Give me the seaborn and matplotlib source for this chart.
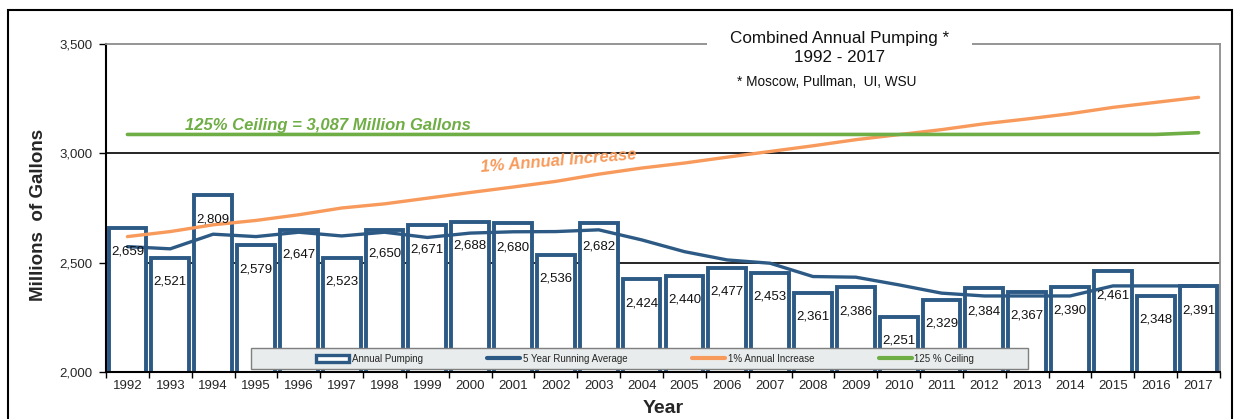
import numpy as np
import pandas as pd
import matplotlib
matplotlib.use("Agg")
import matplotlib.pyplot as plt
from matplotlib.patches import Patch, Rectangle
from matplotlib.lines import Line2D
from matplotlib.ticker import FuncFormatter, FixedLocator
import seaborn as sns

years = [str(y) for y in range(1992, 2018)]
annual_pumping = [2659, 2521, 2809, 2579, 2647, 2523, 2650, 2671, 2688, 2680, 2536, 2682,
                  2424, 2440, 2477, 2453, 2361, 2386, 2251, 2329, 2384, 2367, 2390, 2461,
                  2348, 2391]
running_avg = [2573, 2563, 2630, 2619, 2639, 2622, 2639, 2615, 2635, 2641, 2642, 2650,
               2604, 2550, 2512, 2497, 2436, 2433, 2398, 2360, 2347, 2347, 2347, 2393,
               2393, 2393]
annual_increase = [2619, 2642, 2673, 2693, 2719, 2750, 2769, 2795, 2821, 2846, 2872, 2905,
                   2933, 2956, 2983, 3009, 3035, 3063, 3086, 3109, 3136, 3158, 3182, 3211,
                   3234, 3257]
ceiling = [3087] * 25 + [3095]

legend_labels = ["Annual Pumping", "5 Year Running Average", "1% Annual Increase", "125 % Ceiling"]

BLUE = "#2C5A85"
ORANGE = "#F79A5B"
GREEN = "#6FAD45"

sns.set_theme(style="white")
plt.rcParams["font.family"] = ["Liberation Sans", "DejaVu Sans"]

df = pd.DataFrame({"year": years, "pumping": annual_pumping, "avg": running_avg,
                   "inc": annual_increase, "ceil": ceiling})
df["idx"] = np.arange(len(df))

fig = plt.figure(figsize=(12.41, 4.19), dpi=100)
ax = fig.add_axes([106 / 1241, 1 - 371.7 / 419, (1220 - 106) / 1241, (371.7 - 44.3) / 419])

# gridlines
for yv in (2500, 3000):
    ax.axhline(yv, color="black", lw=1.2, zorder=0.5)

sns.barplot(data=df, x="year", y="pumping", ax=ax, color="white", width=0.88,
            edgecolor=BLUE, linewidth=2.8, zorder=2, saturation=1)
for p in ax.patches:
    p.set_facecolor("white")
    p.set_edgecolor(BLUE)
    p.set_zorder(2)

sns.lineplot(data=df, x="idx", y="inc", ax=ax, color=ORANGE, lw=2.4, zorder=3)
sns.lineplot(data=df, x="idx", y="ceil", ax=ax, color=GREEN, lw=2.6, zorder=3)
sns.lineplot(data=df, x="idx", y="avg", ax=ax, color=BLUE, lw=2.4, zorder=4)

for i, v in enumerate(annual_pumping):
    ax.text(i, v - 110, f"{v:,}", ha="center", va="center", fontsize=9.5, color="#111111", zorder=5)

ax.set_xlim(-0.5, len(years) - 0.5)
ax.set_ylim(2000, 3500)
ax.set_yticks([2000, 2500, 3000, 3500])
ax.yaxis.set_major_formatter(FuncFormatter(lambda v, p: f"{int(v):,}"))
ax.tick_params(axis="y", which="major", direction="out", length=5, width=1, color="black",
               labelsize=9.5, pad=5, left=True)
ax.tick_params(axis="x", which="major", length=0, labelsize=9.5, pad=6)
ax.xaxis.set_minor_locator(FixedLocator(np.arange(-0.5, len(years), 1.0)))
ax.tick_params(axis="x", which="minor", direction="out", length=4, width=1, color="black", bottom=True)

ax.set_xlabel("Year", fontsize=14, fontweight="bold", labelpad=6)
ax.set_ylabel("Millions  of Gallons", fontsize=13.5, fontweight="bold", labelpad=9)
ax.yaxis.set_label_coords(-0.053, 0.48)

for s in ("left", "bottom"):
    ax.spines[s].set_color("black")
    ax.spines[s].set_linewidth(1.5)
for s in ("right", "top"):
    ax.spines[s].set_color("#8C8C8C")
    ax.spines[s].set_linewidth(1.3)
    ax.spines[s].set_visible(True)

# annotations
ax.text(1.35, 3128, "125% Ceiling = 3,087 Million Gallons", fontsize=12, fontweight="bold",
        fontstyle="italic", color=GREEN, ha="left", va="center", zorder=5)
ax.text(8.25, 2935, "1% Annual Increase", fontsize=12, fontweight="bold",
        fontstyle="italic", color=ORANGE, ha="left", va="center", rotation=4.7,
        rotation_mode="anchor", zorder=5)

# title block over the top frame line
fig.patches.append(Rectangle((707 / 1241, 1 - 52 / 419), (972 - 707) / 1241, 14 / 419,
                             transform=fig.transFigure, facecolor="white", edgecolor="none",
                             zorder=10))
fig.text(840 / 1241, 1 - 38 / 419, "Combined Annual Pumping *", ha="center", va="center",
         fontsize=12.3, color="#111111", zorder=11)
fig.text(840 / 1241, 1 - 57 / 419, "1992 - 2017", ha="center", va="center",
         fontsize=12.3, color="#111111", zorder=11)
fig.text(827 / 1241, 1 - 82 / 419, "* Moscow, Pullman,  UI, WSU", ha="center", va="center",
         fontsize=9.8, color="#111111", zorder=11)

# outer frame
fig.patches.append(Rectangle((8 / 1241, -0.05), (1232 - 8) / 1241, 1.05 - 10 / 419,
                             transform=fig.transFigure, facecolor="none", edgecolor="black",
                             lw=1.5, zorder=12))

# legend box
ax.add_patch(Rectangle((0.130, 0.008), 0.698, 0.064, transform=ax.transAxes,
                       facecolor="#E8ECEC", edgecolor="#7F7F7F", lw=1.0, zorder=6))
handles = [Patch(facecolor="white", edgecolor=BLUE, linewidth=2.4),
           Line2D([], [], color=BLUE, lw=3.0),
           Line2D([], [], color=ORANGE, lw=3.0),
           Line2D([], [], color=GREEN, lw=3.0)]
leg = ax.legend(handles, legend_labels, ncol=4, loc="center",
                bbox_to_anchor=(0.130 + 0.698 / 2 + 0.005, 0.008 + 0.064 / 2),
                fontsize=7, frameon=False, borderaxespad=0, borderpad=0,
                handlelength=3.4, handleheight=0.7, handletextpad=0.3,
                columnspacing=6.6)
leg.set_zorder(7)

fig.savefig("out.png", dpi=100)
